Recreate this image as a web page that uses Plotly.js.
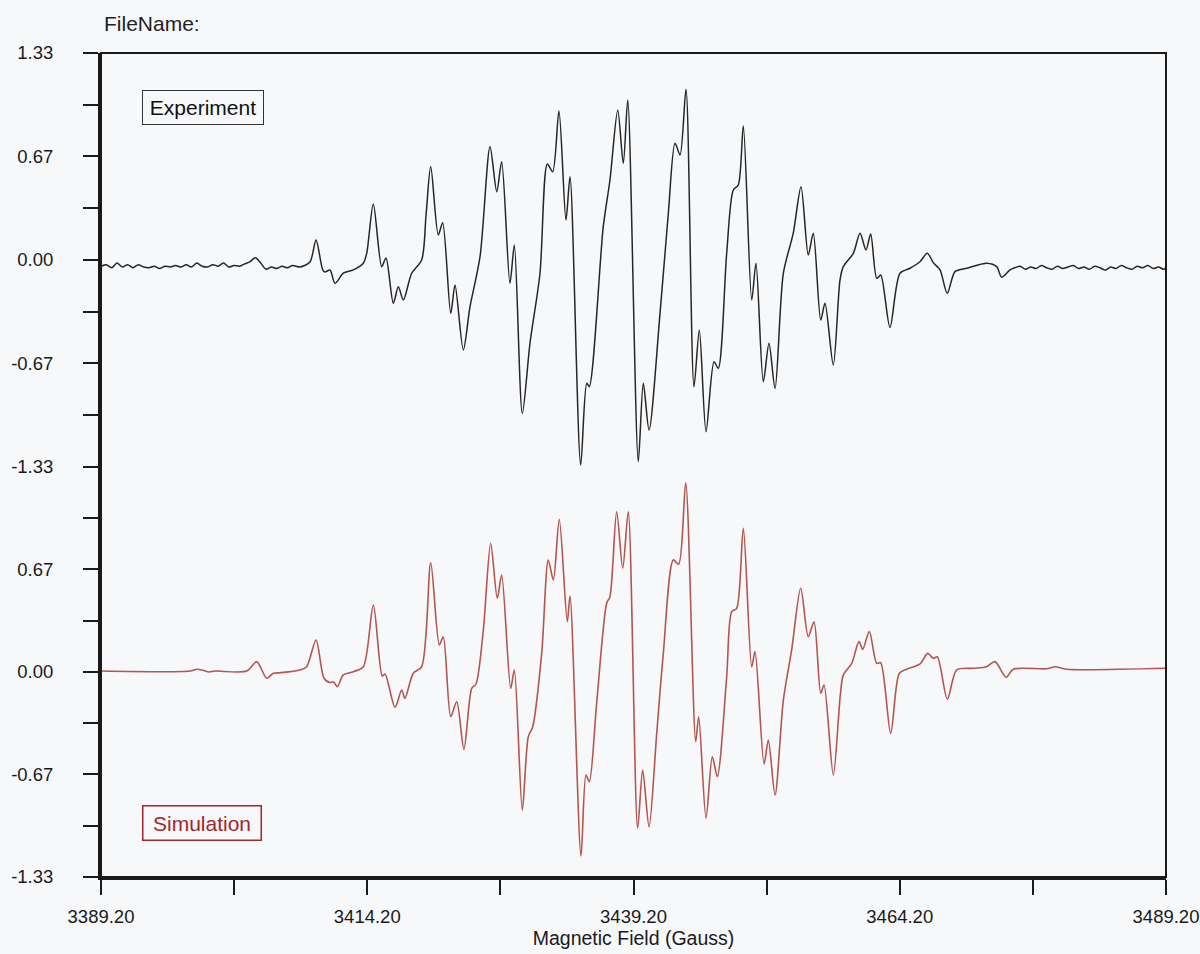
<!DOCTYPE html>
<html>
<head>
<meta charset="utf-8">
<script src="https://cdn.plot.ly/plotly-3.0.1.min.js"></script>
<style>
  html, body { margin: 0; padding: 0; background: #f7f8fa; }
  #chart { width: 1200px; height: 954px; }
</style>
</head>
<body>
<div id="chart"></div>
<script>
// ---- Experiment spectrum (Gauss, signal) ----
const expField = [
  3389.2, 3389.7, 3390.2, 3390.7, 3391.2, 3391.7, 3392.2, 3392.7, 3393.2, 3393.7,
  3394.2, 3394.7, 3395.2, 3395.7, 3396.2, 3396.7, 3397.2, 3397.7, 3398.2, 3398.7,
  3399.2, 3399.7, 3400.2, 3400.7, 3401.2, 3401.7, 3402.2, 3402.7, 3403.2, 3403.7,
  3404.2, 3404.7, 3405.2, 3405.7, 3406.2, 3406.7, 3407.2,
  3407.89, 3408.82, 3409.39, 3410.02, 3410.23, 3410.70, 3411.17, 3411.95, 3412.89, 3413.83,
  3414.15, 3414.77, 3415.56, 3415.96, 3416.65, 3417.12, 3417.59, 3418.37, 3419.31, 3419.72,
  3420.16, 3420.87, 3421.28, 3422.04, 3422.44, 3423.22, 3423.85, 3424.79, 3425.73, 3426.36,
  3426.82, 3427.60, 3428.01, 3428.76, 3429.48, 3430.42, 3431.11, 3431.61, 3432.20, 3432.86,
  3433.24, 3434.24, 3434.81, 3435.05, 3436.36, 3436.99, 3437.72, 3438.24, 3438.66, 3439.65,
  3440.12, 3440.66, 3441.69, 3442.47, 3443.10, 3443.57, 3444.13, 3444.88, 3445.38, 3446.01,
  3446.76, 3447.16, 3447.95, 3448.57, 3449.04, 3449.51, 3450.30, 3450.70, 3451.39, 3451.92,
  3452.49, 3453.27, 3454.20, 3454.93, 3455.61, 3456.08, 3456.78, 3457.18, 3457.96, 3458.59,
  3458.90, 3459.84, 3460.47, 3461.03, 3461.47, 3462.04, 3462.41, 3463.28, 3464.22, 3465.16,
  3466.10, 3466.79, 3467.35, 3467.98, 3468.66, 3469.39, 3470.49, 3471.40, 3472.36, 3473.30,
  3473.77, 3474.55,
  3475.0, 3475.5, 3476.0, 3476.5, 3477.0, 3477.5, 3478.0, 3478.5, 3479.0, 3479.5,
  3480.0, 3480.5, 3481.0, 3481.5, 3482.0, 3482.5, 3483.0, 3483.5, 3484.0, 3484.5,
  3485.0, 3485.5, 3486.0, 3486.5, 3487.0, 3487.5, 3488.0, 3488.5, 3489.0, 3489.2
];
const expSignal = [
  -0.040, -0.030, -0.050, -0.020, -0.045, -0.030, -0.050, -0.030, -0.045, -0.050,
  -0.040, -0.055, -0.040, -0.045, -0.035, -0.045, -0.030, -0.045, -0.020, -0.040,
  -0.045, -0.030, -0.040, -0.020, -0.045, -0.035, -0.040, -0.025, -0.010, 0.015,
  -0.020, -0.060, -0.045, -0.055, -0.040, -0.050, -0.035,
  -0.045, -0.013, 0.129, -0.064, -0.077, -0.064, -0.150, -0.085, -0.064, -0.021,
  0.043, 0.360, -0.043, 0.013, -0.278, -0.172, -0.257, -0.085, 0.000, 0.289,
  0.600, 0.161, 0.240, -0.343, -0.161, -0.578, -0.300, 0.021, 0.728, 0.439,
  0.632, -0.150, 0.096, -0.985, -0.535, -0.085, 0.617, 0.567, 0.958, 0.257,
  0.535, -1.317, -0.792, -0.814, 0.214, 0.514, 0.964, 0.621, 1.028, -1.296,
  -0.792, -1.093, -0.343, 0.300, 0.750, 0.675, 1.097, -0.814, -0.450, -1.103,
  -0.654, -0.696, 0.043, 0.450, 0.482, 0.861, -0.257, -0.021, -0.782, -0.535,
  -0.825, -0.085, 0.172, 0.471, 0.032, 0.172, -0.386, -0.278, -0.675, -0.129,
  -0.043, 0.043, 0.172, 0.064, 0.167, -0.118, -0.096, -0.433, -0.085, -0.053,
  -0.011, 0.043, -0.017, -0.064, -0.214, -0.075, -0.053, -0.035, -0.021, -0.043,
  -0.111, -0.064,
  -0.050, -0.040, -0.060, -0.045, -0.055, -0.035, -0.050, -0.060, -0.040, -0.055,
  -0.045, -0.035, -0.055, -0.045, -0.060, -0.040, -0.050, -0.065, -0.045, -0.055,
  -0.035, -0.050, -0.060, -0.040, -0.050, -0.035, -0.055, -0.045, -0.060, -0.050
];

// ---- Simulation spectrum (Gauss, signal) ----
const simField = [
  3389.2, 3397.56, 3398.19, 3398.68, 3399.28, 3399.90, 3402.88, 3403.82, 3404.76, 3405.38,
  3406.01, 3407.89, 3408.51, 3409.39, 3410.14, 3410.70, 3411.01, 3411.39, 3411.95, 3412.89,
  3413.83, 3414.77, 3415.61, 3415.87, 3416.81, 3417.43, 3417.74, 3418.52, 3419.31, 3420.16,
  3420.97, 3421.34, 3422.04, 3422.60, 3423.28, 3424.01, 3424.41, 3425.10, 3425.79, 3426.41,
  3426.82, 3427.67, 3428.01, 3428.76, 3429.32, 3429.74, 3430.58, 3431.20, 3431.67, 3432.23,
  3432.98, 3433.24, 3434.27, 3434.74, 3435.05, 3435.74, 3436.68, 3436.99, 3437.62, 3438.19,
  3438.71, 3439.59, 3440.06, 3440.66, 3441.38, 3442.00, 3442.94, 3443.44, 3444.10, 3445.04,
  3445.32, 3446.01, 3446.60, 3447.07, 3447.95, 3448.42, 3448.89, 3449.51, 3450.30, 3450.61,
  3451.46, 3451.86, 3452.49, 3453.27, 3454.05, 3454.90, 3455.61, 3456.15, 3456.78, 3457.09,
  3457.96, 3458.62, 3458.90, 3459.69, 3460.37, 3460.72, 3461.34, 3462.04, 3462.41, 3463.35,
  3464.16, 3464.85, 3466.10, 3466.82, 3467.35, 3467.73, 3468.67, 3469.55, 3471.11, 3472.36,
  3473.14, 3474.18, 3474.86, 3477.99, 3478.78, 3479.88, 3489.2
];
const simSignal = [
  0.006, 0.006, 0.018, 0.013, 0.000, 0.006, 0.006, 0.067, -0.041, -0.008,
  -0.005, 0.013, 0.034, 0.208, -0.041, -0.069, -0.063, -0.095, -0.019, 0.002,
  0.034, 0.435, -0.026, -0.013, -0.229, -0.117, -0.171, -0.008, 0.034, 0.709,
  0.175, 0.229, -0.290, -0.193, -0.502, -0.106, -0.078, 0.273, 0.835, 0.478,
  0.629, -0.106, 0.013, -0.896, -0.420, -0.355, 0.121, 0.727, 0.597, 0.991,
  0.326, 0.493, -1.194, -0.668, -0.712, -0.203, 0.446, 0.489, 1.040, 0.673,
  1.040, -1.014, -0.636, -1.004, -0.398, 0.121, 0.727, 0.699, 1.228, -0.452,
  -0.290, -0.949, -0.550, -0.679, -0.030, 0.391, 0.413, 0.933, 0.034, 0.132,
  -0.597, -0.441, -0.798, -0.182, 0.143, 0.543, 0.229, 0.326, -0.138, -0.084,
  -0.668, -0.149, -0.019, 0.056, 0.197, 0.147, 0.262, 0.056, 0.060, -0.398,
  -0.008, 0.018, 0.052, 0.121, 0.089, 0.099, -0.177, 0.013, 0.024, 0.034,
  0.067, -0.034, 0.018, 0.021, 0.034, 0.018, 0.024
];

// ---- Axis ticks ----
const xTickVals = [3389.2, 3401.7, 3414.2, 3426.7, 3439.2, 3451.7, 3464.2, 3476.7, 3489.2];
const xTickText = ['3389.20', '', '3414.20', '', '3439.20', '', '3464.20', '', '3489.20'];
const yTopTickVals = [-1.33, -0.9975, -0.665, -0.3325, 0, 0.3325, 0.665, 0.9975, 1.33];
const yTopTickText = ['-1.33', '', '-0.67', '', '0.00', '', '0.67', '', '1.33'];
const yBotTickVals = [-1.33, -0.9975, -0.665, -0.3325, 0, 0.3325, 0.665, 0.9975];
const yBotTickText = ['-1.33', '', '-0.67', '', '0.00', '', '0.67', ''];

const FONT = 'Liberation Sans, Arial, Helvetica, sans-serif';
const INK = '#1a1a1a';

const traces = [
  {
    x: expField, y: expSignal, xaxis: 'x', yaxis: 'y2',
    type: 'scatter', mode: 'lines', name: 'Experiment',
    line: { color: '#262626', width: 1.5, shape: 'spline', smoothing: 0.8 },
    hoverinfo: 'x+y'
  },
  {
    x: simField, y: simSignal, xaxis: 'x', yaxis: 'y',
    type: 'scatter', mode: 'lines', name: 'Simulation',
    line: { color: '#b4554f', width: 1.6, shape: 'spline', smoothing: 0.8 },
    hoverinfo: 'x+y'
  }
];

const split = 0.4976;
const yCommon = {
  range: [-1.33, 1.33], autorange: false,
  showgrid: false, zeroline: false,
  showline: true, linecolor: INK, linewidth: 3,
  ticks: 'outside', ticklen: 15, tickwidth: 2, tickcolor: INK,
  tickfont: { family: FONT, size: 18.5, color: INK },
  ticklabelstandoff: 26,
  anchor: 'x', fixedrange: true
};

const layout = {
  width: 1200, height: 954,
  margin: { l: 101, r: 34, t: 53, b: 77 },
  paper_bgcolor: '#f7f8fa', plot_bgcolor: '#f7f8fa',
  showlegend: false,
  font: { family: FONT, color: INK },
  xaxis: {
    range: [3389.2, 3489.2], autorange: false,
    showgrid: false, zeroline: false,
    showline: true, linecolor: INK, linewidth: 3,
    ticks: 'outside', ticklen: 15, tickwidth: 2, tickcolor: INK,
    tickmode: 'array', tickvals: xTickVals, ticktext: xTickText,
    tickfont: { family: FONT, size: 18.5, color: INK },
    ticklabelstandoff: 6,
    title: { text: 'Magnetic Field (Gauss)', font: { family: FONT, size: 19.5, color: INK }, standoff: 2 },
    anchor: 'y', fixedrange: true
  },
  yaxis: Object.assign({}, yCommon, {
    domain: [0, split], tickmode: 'array', tickvals: yBotTickVals, ticktext: yBotTickText
  }),
  yaxis2: Object.assign({}, yCommon, {
    domain: [split, 1], tickmode: 'array', tickvals: yTopTickVals, ticktext: yTopTickText
  }),
  shapes: [
    { type: 'rect', xref: 'paper', yref: 'paper', x0: 0, x1: 1, y0: 0, y1: 1,
      line: { color: INK, width: 2 }, fillcolor: 'rgba(0,0,0,0)', layer: 'above' }
  ],
  annotations: [
    { text: 'FileName:', xref: 'paper', yref: 'paper', x: 0.0007, y: 1.0352,
      xanchor: 'left', yanchor: 'middle', showarrow: false,
      font: { family: FONT, size: 21, color: '#222' } },
    { text: 'Experiment', xref: 'paper', yref: 'paper', x: 0.0388, y: 0.9551,
      xanchor: 'left', yanchor: 'top', showarrow: false,
      width: 114, height: 27, borderpad: 3, borderwidth: 1, bordercolor: '#333',
      font: { family: FONT, size: 21, color: '#111' } },
    { text: 'Simulation', xref: 'paper', yref: 'paper', x: 0.0382, y: 0.0874,
      xanchor: 'left', yanchor: 'top', showarrow: false,
      width: 111, height: 27, borderpad: 3, borderwidth: 1.5, bordercolor: '#a3262a',
      font: { family: FONT, size: 21, color: '#a3262a' } }
  ]
};

Plotly.newPlot('chart', traces, layout, { displayModeBar: false, staticPlot: true });
</script>
</body>
</html>
